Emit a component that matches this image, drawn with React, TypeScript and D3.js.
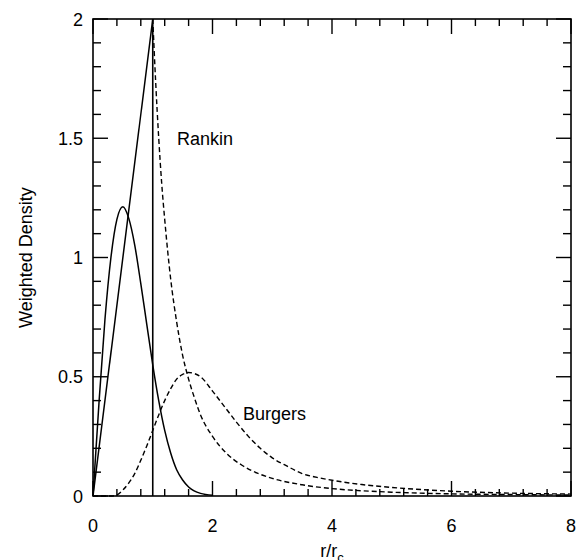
import React from "react";
import * as d3 from "d3";

// values
const rankinCoreR = [0, 1];
const rankinCoreV = [0, 2];

const rankinOuterR = [1, 1.05, 1.1, 1.15, 1.2, 1.3, 1.4, 1.5, 1.6, 1.7, 1.8, 2, 2.25, 2.5, 2.75, 3, 3.5, 4, 4.5, 5, 6, 7, 8];
const rankinOuterV = [2, 1.73, 1.5, 1.31, 1.16, 0.91, 0.73, 0.59, 0.49, 0.41, 0.34, 0.25, 0.175, 0.128, 0.096, 0.074, 0.047, 0.031, 0.022, 0.016, 0.009, 0.006, 0.004];

const burgersCoreR = [0, 0.1, 0.2, 0.3, 0.4, 0.5, 0.6, 0.7, 0.8, 0.9, 1, 1.1, 1.2, 1.3, 1.4, 1.5, 1.6, 1.8, 2];
const burgersCoreV = [0, 0.39, 0.74, 1.0, 1.16, 1.213, 1.163, 1.05, 0.89, 0.72, 0.55, 0.4, 0.275, 0.18, 0.11, 0.067, 0.038, 0.011, 0.003];

const burgersOuterR = [0, 0.3, 0.4, 0.5, 0.6, 0.7, 0.8, 0.9, 1, 1.1, 1.2, 1.3, 1.4, 1.5, 1.6, 1.7, 1.8, 2, 2.2, 2.4, 2.6, 2.8, 3, 3.25, 3.5, 3.75, 4, 4.5, 5, 6, 7, 8];
const burgersOuterV = [0, 0, 0.005, 0.025, 0.055, 0.095, 0.15, 0.21, 0.275, 0.34, 0.4, 0.45, 0.49, 0.51, 0.518, 0.513, 0.5, 0.44, 0.375, 0.31, 0.25, 0.2, 0.16, 0.125, 0.094, 0.078, 0.066, 0.048, 0.036, 0.02, 0.012, 0.008];

const xTicks = [0, 2, 4, 6, 8];
const yTicks = [0, 0.5, 1, 1.5, 2];
const yTickLabels = ["0", "0.5", "1", "1.5", "2"];

const W = 579;
const H = 560;
const FONT = "'Liberation Sans', Arial, Helvetica, sans-serif";

const x = d3.scaleLinear().domain([0, 8]).range([93, 571]);
const y = d3.scaleLinear().domain([0, 2]).range([496, 19]);

const zip = (rs: number[], vs: number[]) => rs.map((r, i) => [r, vs[i]] as [number, number]);

const smooth = d3
  .line<[number, number]>()
  .x(d => x(d[0]))
  .y(d => y(d[1]))
  .curve(d3.curveMonotoneX);

const straight = d3
  .line<[number, number]>()
  .x(d => x(d[0]))
  .y(d => y(d[1]));

const App = () => {
  const xMinor = d3.range(0, 8.001, 0.4).filter(v => Math.abs(v / 2 - Math.round(v / 2)) > 1e-6);
  const yMinor = d3.range(0, 2.001, 0.1).filter(v => Math.abs(v / 0.5 - Math.round(v / 0.5)) > 1e-6);
  const [x0, x1] = x.range();
  const [y0, y1] = y.range();

  return (
    <svg width={W} height={H} style={{ position: "absolute", left: 0, top: 0, background: "#fff" }} fontFamily={FONT}>
      <g stroke="#000" strokeWidth={1.4} fill="none">
        {/* ticks, inward on all four sides */}
        {xMinor.map(v => (
          <g key={"xm" + v}>
            <line x1={x(v)} x2={x(v)} y1={y0} y2={y0 - 7} />
            <line x1={x(v)} x2={x(v)} y1={y1} y2={y1 + 7} />
          </g>
        ))}
        {xTicks.map(v => (
          <g key={"xM" + v}>
            <line x1={x(v)} x2={x(v)} y1={y0} y2={y0 - 15} />
            <line x1={x(v)} x2={x(v)} y1={y1} y2={y1 + 15} />
          </g>
        ))}
        {yMinor.map(v => (
          <g key={"ym" + v}>
            <line x1={x0} x2={x0 + 8} y1={y(v)} y2={y(v)} />
            <line x1={x1} x2={x1 - 8} y1={y(v)} y2={y(v)} />
          </g>
        ))}
        {yTicks.map(v => (
          <g key={"yM" + v}>
            <line x1={x0} x2={x0 + 15} y1={y(v)} y2={y(v)} />
            <line x1={x1} x2={x1 - 15} y1={y(v)} y2={y(v)} />
          </g>
        ))}
        <rect x={x0} y={y1} width={x1 - x0} height={y0 - y1} strokeWidth={1.6} />

        {/* curves */}
        <path d={straight(zip(rankinCoreR, rankinCoreV)) || ""} strokeWidth={1.5} />
        <line x1={x(1)} x2={x(1)} y1={y(0)} y2={y(2)} strokeWidth={1.6} />
        <path d={smooth(zip(burgersCoreR, burgersCoreV)) || ""} strokeWidth={1.5} />
        <path d={smooth(zip(rankinOuterR, rankinOuterV)) || ""} strokeWidth={1.4} strokeDasharray="5,3" />
        <path d={smooth(zip(burgersOuterR, burgersOuterV)) || ""} strokeWidth={1.4} strokeDasharray="5,3" />
      </g>

      <g fontSize={18} fill="#000">
        {xTicks.map(v => (
          <text key={"xl" + v} x={x(v)} y={532} textAnchor="middle">
            {v}
          </text>
        ))}
        {yTicks.map((v, i) => (
          <text key={"yl" + v} x={83} y={y(v) + 6.5} textAnchor="end">
            {yTickLabels[i]}
          </text>
        ))}
        <text transform={`translate(32,${(y0 + y1) / 2}) rotate(-90)`} textAnchor="middle">
          Weighted Density
        </text>
        <text x={(x0 + x1) / 2} y={557} textAnchor="middle">
          r/r<tspan fontSize={13} dy={5}>c</tspan>
        </text>
        <text x={177} y={145}>Rankin</text>
        <text x={243} y={420}>Burgers</text>
      </g>
    </svg>
  );
};

export default App;
